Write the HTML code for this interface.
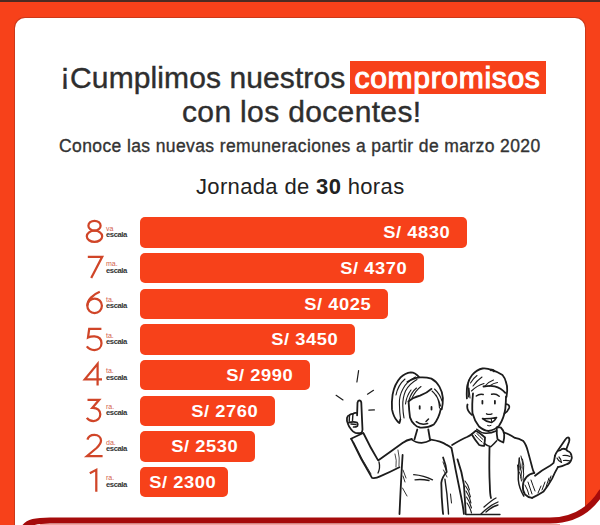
<!DOCTYPE html>
<html><head><meta charset="utf-8">
<style>
html,body{margin:0;padding:0;}
body{width:600px;height:525px;overflow:hidden;position:relative;background:#f7411a;font-family:"Liberation Sans",sans-serif;}
.abs{position:absolute;white-space:nowrap;}
#topband{left:0;top:0;width:600px;height:2px;background:#4b2a22;}
#card{left:15px;top:18px;width:570px;height:520px;background:#fff;border-radius:10px;box-shadow:0 0 0 1px rgba(170,50,25,0.55);}
#t1{left:60px;top:62.6px;letter-spacing:0.1px;font-size:30px;color:#2e2e2e;line-height:30px;-webkit-text-stroke:0.4px #2e2e2e;}
#box{left:349.5px;top:61px;width:196.5px;height:32.5px;background:#f7411a;}
#t1b{left:354.5px;top:62.6px;letter-spacing:0.7px;font-size:30px;color:#fff;line-height:30px;-webkit-text-stroke:1.1px #fff;}
#t2{left:182px;top:97.1px;letter-spacing:0.35px;font-size:30px;color:#2e2e2e;line-height:30px;-webkit-text-stroke:0.4px #2e2e2e;}
#sub{left:59px;top:135.4px;letter-spacing:0.39px;font-size:17.5px;color:#333;line-height:22px;-webkit-text-stroke:0.35px #333;}
#jor{left:196px;top:175px;letter-spacing:0.35px;font-size:22px;color:#222;line-height:24px;}
.bar{position:absolute;left:140px;height:30.4px;background:#f7411a;border-radius:5px;}
.bt{position:absolute;top:0;line-height:30.4px;color:#fff;font-weight:bold;font-size:16.2px;letter-spacing:0.5px;white-space:nowrap;transform:scaleX(1.13);transform-origin:100% 50%;}
.dg{position:absolute;fill:none;stroke:#d04528;stroke-width:2.25;overflow:visible;}
.sup{position:absolute;left:106px;font-size:7px;line-height:8px;color:#d2604c;}
.esc{position:absolute;left:106px;font-size:7.7px;line-height:9px;font-weight:bold;color:#333;letter-spacing:-0.45px;}
</style></head><body>
<div id="topband" class="abs"></div>
<div id="card" class="abs"></div>
<div id="t1" class="abs"><span style="position:relative;top:-4px">¡</span>Cumplimos nuestros</div>
<div id="box" class="abs"></div>
<div id="t1b" class="abs">compromisos</div>
<div id="t2" class="abs">con los docentes!</div>
<div id="sub" class="abs">Conoce las nuevas remuneraciones a partir de marzo 2020</div>
<div id="jor" class="abs">Jornada de <b>30</b> horas</div>
<div class="bar" style="top:217.3px;width:327.2px"><span class="bt" id="b1" style="right:16.5px">S/ 4830</span></div>
<div class="bar" style="top:253.0px;width:284.0px"><span class="bt" id="b2" style="right:16.5px">S/ 4370</span></div>
<div class="bar" style="top:288.6px;width:248.3px"><span class="bt" id="b3" style="right:16.5px">S/ 4025</span></div>
<div class="bar" style="top:324.3px;width:214.8px"><span class="bt" id="b4" style="right:16.5px">S/ 3450</span></div>
<div class="bar" style="top:360.0px;width:170.0px"><span class="bt" id="b5" style="right:16.5px">S/ 2990</span></div>
<div class="bar" style="top:395.7px;width:134.9px"><span class="bt" id="b6" style="right:16.5px">S/ 2760</span></div>
<div class="bar" style="top:431.3px;width:115.0px"><span class="bt" id="b7" style="right:16.5px">S/ 2530</span></div>
<div class="bar" style="top:467.0px;width:88.2px"><span class="bt" id="b8" style="right:12px">S/ 2300</span></div>
<svg class="dg" style="left:85.5px;top:220.0px" width="19" height="23" viewBox="0 0 19 23"><ellipse cx="8.5" cy="5.7" rx="6.1" ry="4.9"/><ellipse cx="8.5" cy="16.3" rx="7.7" ry="5.6"/></svg>
<div class="sup" style="top:224.6px">va</div>
<div class="esc" style="top:229.9px">escala</div>
<svg class="dg" style="left:86.5px;top:256.0px" width="19" height="23" viewBox="0 0 19 23"><path d="M0.8 0.8H15.2L4.2 22"/></svg>
<div class="sup" style="top:260.3px">ma.</div>
<div class="esc" style="top:265.6px">escala</div>
<svg class="dg" style="left:85.7px;top:291.4px" width="19" height="23" viewBox="0 0 19 23"><path d="M13.8 0.8C7 3.5 1.3 9 1.3 14.8"/><circle cx="8.6" cy="14.8" r="7.3"/></svg>
<div class="sup" style="top:295.9px">ta.</div>
<div class="esc" style="top:301.2px">escala</div>
<svg class="dg" style="left:85.7px;top:328.0px" width="19" height="23" viewBox="0 0 19 23"><path d="M15.4 0.8H3.2L2 9.6C4 8.6 6.6 8.3 8.6 8.4C13 8.8 15.5 11.6 15.5 15.2C15.5 19.4 12.3 22 8.4 22C5 22 2.4 20.6 0.8 18.4"/></svg>
<div class="sup" style="top:331.6px">ta.</div>
<div class="esc" style="top:336.9px">escala</div>
<svg class="dg" style="left:84.3px;top:363.0px" width="19" height="23" viewBox="0 0 19 23"><path d="M13.6 22.5V0.8L0.8 16.3H18"/></svg>
<div class="sup" style="top:367.3px">ta.</div>
<div class="esc" style="top:372.6px">escala</div>
<svg class="dg" style="left:85.7px;top:398.6px" width="19" height="23" viewBox="0 0 19 23"><path d="M1.5 0.8H13.2L6.4 8.8C11.6 8.6 14.3 11.8 14.3 15.3C14.3 19.4 11.2 22 7.5 22C4.6 22 2.2 20.8 0.8 18.8"/></svg>
<div class="sup" style="top:403.0px">ra.</div>
<div class="esc" style="top:408.3px">escala</div>
<svg class="dg" style="left:85.7px;top:434.3px" width="19" height="23" viewBox="0 0 19 23"><path d="M1.4 5.6C2.3 2.4 5 0.8 8.4 0.8C12.4 0.8 15 3.4 15 6.6C15 9.6 13.2 11.6 10.6 14L1 22H16.6"/></svg>
<div class="sup" style="top:438.6px">da.</div>
<div class="esc" style="top:443.9px">escala</div>
<svg class="dg" style="left:89.3px;top:469.3px" width="19" height="23" viewBox="0 0 19 23"><path d="M0.8 4.2L7.3 0.8V22.8"/></svg>
<div class="sup" style="top:474.3px">ra.</div>
<div class="esc" style="top:479.6px">escala</div>
<svg class="abs" style="left:0;top:0" width="600" height="525" viewBox="0 0 600 525">
<g fill="none" stroke="#1c1c1c" stroke-width="1.8" stroke-linecap="round" stroke-linejoin="round">
<!-- sparkles -->
<path d="M358.6 370.7L356.9 382" stroke-width="1.2"/>
<path d="M373.5 390.3L367.5 394.2" stroke-width="1.2"/>
<path d="M368.8 410.1L374.4 409.9" stroke-width="1.2"/>
<path d="M336.1 395.3L343 399.9" stroke-width="1.2"/>
<!-- woman hand -->
<path d="M357.1 415.3L357.5 402.7Q358 400.5 359.2 400.4Q361 400.5 361.3 402.7L362.1 421.1L362.5 429.5Q362.3 432 361.3 432.9"/>
<path d="M357.1 413Q354.5 412.3 352.9 414Q351.5 413.8 349.5 415Q347.5 415.5 347 418Q346.5 421 347.9 423.7Q349 427 351.2 429.5Q353 432 355.4 432.9Q358.5 433.6 361.3 432.9"/>
<path d="M352.9 414.3L352.5 420.5M349.5 415.3L349.2 421.5" stroke-width="1.4"/>
<path d="M348.7 422.8Q353 421 357.1 422.6Q358.6 424.3 357.5 426Q355.5 427.3 353.5 427" stroke-width="1.6"/>
<path d="M351 424Q354 424 356 424.5" stroke-width="1.5"/>
<!-- woman raised arm sleeve -->
<path d="M351 438.7L363.2 433"/>
<path d="M351.3 438.9Q360 458 372 477.9Q376 478.5 380 476.4Q390 472 399.4 467.2"/>
<path d="M363.6 433.5Q370 447 378.1 460.4Q390 452 402.5 442.9Q406.5 440 411.8 439"/>
<path d="M379 462Q380.5 468 378 473" stroke-width="1.3"/>
<path d="M353.5 442Q362 460 371 474" stroke-width="0.9"/>
<path d="M398 450Q400 458 399 466M395 454Q397 460 396 467" stroke-width="0.8"/>
<!-- woman head -->
<path d="M418.9 376.9Q415 372.3 410.9 372.3Q405 373 400.6 377.4Q394.5 384 392.6 394.6Q391.5 402 392 409.4Q393.5 417 397.1 420.9Q398.5 422.5 399.4 423.1Q400 421.5 400.3 419.5"/>
<path d="M407.4 382Q413 378 420 377.4Q426 377 431.4 378.6Q436 381 439.4 386.6Q442.5 392 442.9 398Q443 404 441.7 409.4"/>
<path d="M408.6 401.4Q413 397.5 420 395.7Q427 393 431.4 388.9" stroke-width="1.9"/>
<path d="M415.4 376.9Q406 382 402.9 388.9Q399 396 399.4 403.7Q399.5 412 400.6 419.7M417 379.5Q409 384 405.5 391Q402.5 398 402.8 406Q403 413 404 418M396 395Q398 385 405 379M409 400Q411.5 392 416.5 388M412 398Q416 390 421 386.5M405.5 404Q406.5 396 411 390" stroke-width="1.1"/>
<path d="M432 391Q438 396 440.5 406M434.5 389Q440 394 442 401M436 395Q439 400 439.5 408" stroke-width="1.1"/>
<path d="M408.6 401.4Q409 410 410 417.4Q411.5 422 414.3 424.3Q416.5 427 420 427.5Q428 428 433.8 424.5Q439 418 440.8 408.8"/>
<path d="M419.7 406.2V408.7M431.5 407V409.5" stroke-width="1.8"/>
<path d="M416.2 421.7Q421 425.5 427.7 423.5M426 421.5L428.5 419" stroke-width="1.5"/>
<!-- woman neck/body -->
<path d="M417.3 429.5L414.5 439.3M428.3 429.5L430 439.5"/>
<path d="M411.5 439.4Q416 443 421.7 442.9Q426.5 442.5 430.3 440.3" stroke-width="1.6"/>
<path d="M430.8 439.6Q441 441 446.7 444.9Q450 446.5 451.5 448Q453.5 458 455.7 470.2Q458.5 484 461.2 497.3Q463 506 463.9 514"/>
<path d="M443.1 457.5Q446 465 446.7 472Q442 477 441.3 482.9Q441.5 500 443.1 514"/>
<path d="M444.9 479.2Q447.5 495 448.5 514" stroke-width="1.4"/><path d="M450.5 494L451.5 503" stroke-width="1"/>
<path d="M443 462L446 470M443.5 470L447 477" stroke-width="0.9"/>
<path d="M402.6 455Q401 480 399.5 514"/>
<path d="M403 470L406 478M402.5 488L407 496M403 476L405 482" stroke-width="0.9"/>
<path d="M413.7 474.7Q424 475.5 432.5 479.8M415 479.8Q422 479 429 480.5" stroke-width="1.3"/>
<!-- man left shoulder + body -->
<path d="M452.1 445Q462 439 467 437Q470 435.5 471.7 434.2"/>
<path d="M457.5 459.4Q462 472 463.9 484.7Q465 500 465.7 514"/>
<path d="M466 514.5H500" stroke-width="1.3"/>
<path d="M465.5 486Q469.5 491 470.5 497M466 491Q470 497 471 503M466.5 497Q470 502 471.5 508M467 503Q470 507 471.5 513M465 481Q468.5 485 469.5 490" stroke-width="1.1"/>
<!-- man head -->
<path d="M466.9 398.4Q466.3 388 467.8 383.7Q469.5 378 472.1 375Q477 369.5 482.5 368.5Q487 368 492.1 370.2Q498 372 502.5 375Q505 378 505.9 381.9Q507.5 386 507.2 390.6L506.5 397"/>
<path d="M491 370Q493 369.5 494 371" stroke-width="2.4"/>
<path d="M483.5 386.5Q490 385.3 494.7 386.3Q501 387.8 505.3 392.8"/>
<path d="M471.5 391Q477 385.5 484 383.5M473 386Q477 380.5 482 377M470.5 383Q473.5 378 477 375.5M485 386Q489 381.5 493.5 380M489.5 386Q493.5 383 497.5 382.5M469 388Q469.5 394 470 398M468.5 380Q467.5 388 468.5 397" stroke-width="1.1"/>
<path d="M473 393.5Q471.8 405 472.5 413.3Q474.5 421 479 426.5Q484 430.8 488.5 431Q495 430 499.2 425.5Q504 418 505.3 408.8Q506 402 506 396.6"/>
<path d="M467.5 404.5Q466 410 471.8 414.9M506 404.2Q510 404.5 509.1 408Q507.5 412 504.5 413.3"/>
<path d="M476.3 396Q479.5 393.5 483.2 394.5M491.6 394.3Q495.5 393 499.2 396.2" stroke-width="1.5"/>
<path d="M482.4 400.8V403.5M494.9 400.8V403.5" stroke-width="1.8"/>
<path d="M486.5 413.8Q489 415 492 413.8" stroke-width="1.3"/>
<path d="M482.5 418.6Q490 418.8 496.6 417.4Q495 420.8 491.5 422.6Q486 421.8 482.5 418.6Z" stroke-width="1.5"/><path d="M491.2 418.8L491.8 422" stroke-width="1.1"/>
<path d="M487.5 425.5Q489 426.5 491 425.5" stroke-width="1"/>
<!-- man collar/body -->
<path d="M476.7 429.2Q481 433 485.8 433.3Q491 433.5 496.7 430.8" stroke-width="1.5"/>
<path d="M471.7 434.2Q475 440 479.2 445Q482 446 484.2 445.8Q485 441 485 437.5Q480 433 475.8 430.8Z"/>
<path d="M475 435Q478 439 482 442M477 433.5Q480 437 483 439.5" stroke-width="1"/>
<path d="M484.2 443.3Q487.5 446 490.8 446.7Q494 444 496.7 440.8" stroke-width="1.5"/>
<path d="M496.7 427.5Q499 427 500.8 427.5Q503.5 430 504.2 434.2Q504.5 438 503.3 442.5Q500 441 497.5 439.2Q496.5 434 496.7 427.5Z"/>
<path d="M489.5 447.5Q489 470 489.8 485Q490 495 491 498"/>
<path d="M484 507Q492 500 496 498M481 514Q490 505 498 502M486 512Q493 506 498 505" stroke-width="1.3"/>

<path d="M504.2 432.5Q510 434.5 515 437.9Q519 438.5 522.9 440.7Q526 444 527.9 451.4Q530 459 532.1 467.1Q533 471 534.3 472.9"/>
<path d="M519.3 458Q518 470 518.3 479.7Q519 488 523.8 496" stroke-width="1.5"/>
<!-- man arm -->
<path d="M534.3 472.9Q529 474 526.4 477.1Q523 481 522.9 485.7Q522.5 491 525 494.3Q528 497.5 532.1 497.9"/>
<path d="M535 475.7Q542 470 550 465.7Q552 464.5 553.6 462.9Q554.5 459 555 455.7"/>
<path d="M532.1 497.9Q538 495 543.6 491.4Q548 486 552.1 478.6Q555 472 557.9 467.1"/>
<path d="M555 455.7Q556 453 557.5 451L565 440Q567 437 568.5 437.5Q570 438.5 569 442L566.4 449"/>
<path d="M562 449Q566 448 567.5 451Q571 452 571.5 455.5Q572.5 458 571 460.5Q570 463.5 566 464.5Q562 466.5 557.9 467.1"/><path d="M557.5 451Q561 450.5 562 449" stroke-width="1.4"/>
<path d="M563 455.5Q567 455 570 456.5M563.5 460.5Q567 460 570.5 461M557 458Q558.5 461.5 561.5 462.5Q561 459 559 457" stroke-width="1.2"/>
<path d="M519.5 460Q521 465 520 470M521 456Q523.5 462 522 468M520 466Q522.5 472 521 478M519.5 472Q521 476 521.5 481M522.5 459Q524.5 465 523.5 472M517.5 465Q519 472 518.5 479M523 468Q524.5 474 523 480" stroke-width="1"/>
<path d="M525 485Q528 490 529 495M528 482Q530 488 532 494M531 480Q533 486 535 491" stroke-width="1"/>
<path d="M538 493L541 486M542 490L545 482M546 487L549 478M549 482L551 476" stroke-width="1"/>
</g>
</svg>
<svg class="abs" style="left:0;top:0" width="600" height="525" viewBox="0 0 600 525">
<path d="M602 490C591 511 574 520.5 550 520.5L550 526L602 526Z" fill="#fff"/>
<path d="M24 528C28 522 36 520.5 50 520.5L550 520.5C573 520.5 590 511 602 491" fill="none" stroke="#a50b0b" stroke-width="6"/>
<path d="M40 524.5H560" stroke="#f2a5a0" stroke-width="1.2"/>
</svg>

</body></html>
